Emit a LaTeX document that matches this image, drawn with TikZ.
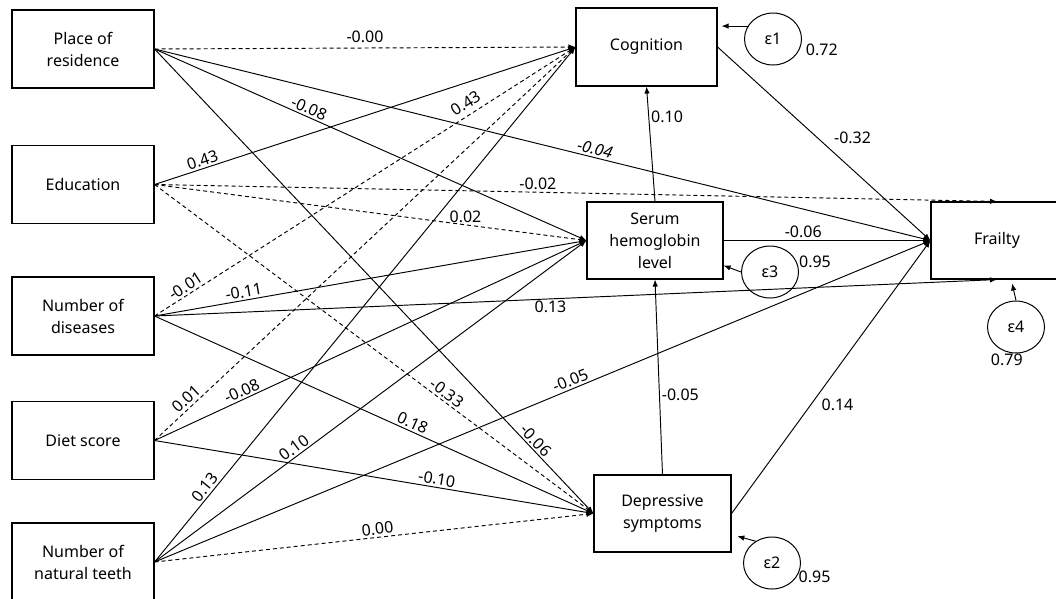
\documentclass[tikz,border=0pt]{standalone}
\usepackage{fontspec}
\setmainfont{Noto Sans}
\usetikzlibrary{arrows.meta,shapes.geometric}

\begin{document}
\begin{tikzpicture}[x=1pt,y=-1pt,
  font=\fontsize{16}{22}\selectfont,
  obs/.style={draw, line width=1.1pt, minimum width=142pt, minimum height=78pt, inner sep=0pt, align=center},
  err/.style={draw, ellipse, line width=1pt, minimum width=57pt, minimum height=52pt, inner sep=0pt},
  eff/.style={draw, line width=0.95pt, -{Latex[length=7pt,width=5.5pt]}},
  ns/.style={eff, dash pattern=on 4pt off 3pt},
  lab/.style={font=\fontsize{16}{18}\selectfont, inner sep=2pt}]
\useasboundingbox (0,0) rectangle (1056,598);

\node[obs] (res) at (83,49) {Place of\\residence};
\node[obs] (edu) at (83,184.5) {Education};
\node[obs] (dis) at (83,316) {Number of\\diseases};
\node[obs] (diet) at (83,440.5) {Diet score};
\node[obs] (teeth) at (83,562) {Number of\\natural teeth};

\node[obs, minimum width=141pt] (cog) at (646.5,47) {Cognition};
\node[obs, minimum width=136pt, minimum height=77pt] (hb) at (655,240.5) {Serum\\hemoglobin\\level};
\node[obs, minimum width=137pt, minimum height=77pt] (dep) at (662.5,513.5) {Depressive\\symptoms};
\node[obs, minimum width=132pt, minimum height=77pt] (fr) at (997,240.5) {Frailty};

\node[err, label={[lab,anchor=west,label distance=4pt]-20:0.72}] (e1) at (773,39) {ε1};
\node[err, label={[lab,anchor=west]20:0.95}] (e3) at (770,272) {ε3};
\node[err, label={[lab,anchor=west]-30:0.95}] (e2) at (772,563) {ε2};
\node[err, label={[lab,anchor=north]-110:0.79}] (e4) at (1016,327) {ε4};

% place of residence
\path[ns] (res.east) -- node[lab,above=3pt] {-0.00} (cog.west);
\path[eff] (res.east) -- node[lab,above,sloped,pos=0.565] {\itshape -0.04} (fr.west);
\path[eff] (res.east) -- node[lab,above,sloped,pos=0.35] {-0.08} (hb.west);
\path[eff] (res.east) -- node[lab,above,sloped,pos=0.855] {-0.06} (dep.west);

% education
\path[eff] (edu.east) -- node[lab,above,sloped,pos=0.12] {0.43} (cog.west);
\path[ns] (edu.east) -- node[lab,above,pos=0.455] {-0.02} (fr.north);
\path[ns] (edu.east) -- node[lab,above,pos=0.72] {0.02} (hb.west);
\path[ns] (edu.east) -- node[lab,above,sloped,pos=0.655] {-0.33} (dep.west);

% number of diseases
\path[ns] (dis.east) -- node[lab,above,sloped,pos=0.085] {-0.01} node[lab,above=3pt,sloped,pos=0.755] {0.43} (cog.west);
\path[eff] (dis.east) -- node[lab,above,sloped,pos=0.21] {-0.11} (hb.west);
\path[eff] (dis.east) -- node[lab,below,pos=0.47] {0.13} (fr.south);
\path[eff] (dis.east) -- node[lab,above,sloped,pos=0.58] {0.18} (dep.west);

% diet score
\path[ns] (diet.east) -- node[lab,above,sloped,pos=0.09] {0.01} (cog.west);
\path[eff] (diet.east) -- node[lab,above,sloped,pos=0.21] {-0.08} (hb.west);
\path[eff] (diet.east) -- node[lab,above,sloped,pos=0.64] {-0.10} (dep.west);

% natural teeth
\path[eff] (teeth.east) -- node[lab,above,sloped,pos=0.135] {0.13} (cog.west);
\path[eff] (teeth.east) -- node[lab,above,sloped,pos=0.335] {0.10} (hb.west);
\path[eff] (teeth.east) -- node[lab,above,sloped,pos=0.54] {-0.05} (fr.west);
\path[ns] (teeth.east) -- node[lab,above,sloped,pos=0.51] {0.00} (dep.west);

% mediators
\path[eff] (hb.north) -- node[lab,right,pos=0.74] {0.10} (cog.south);
\path[eff] (dep.north) -- node[lab,right,pos=0.41] {-0.05} (hb.south);
\path[eff] (cog.east) -- node[lab,right=14pt,pos=0.47] {-0.32} (fr.west);
\path[eff] (hb.east) -- node[lab,above,pos=0.385] {-0.06} (fr.west);
\path[eff] (dep.east) -- node[lab,right=8pt,pos=0.4] {0.14} (fr.west);

% residuals
\path[eff, shorten >=4pt] (e1.153) -- (cog.east |- e1.153);
\path[eff] (e3.west) -- (hb.-20);
\path[eff, shorten >=6pt] (e2.127) -- (dep.-17);
\path[eff, shorten >=4pt] (e4.north) -- (fr.-70);
\end{tikzpicture}
\end{document}
